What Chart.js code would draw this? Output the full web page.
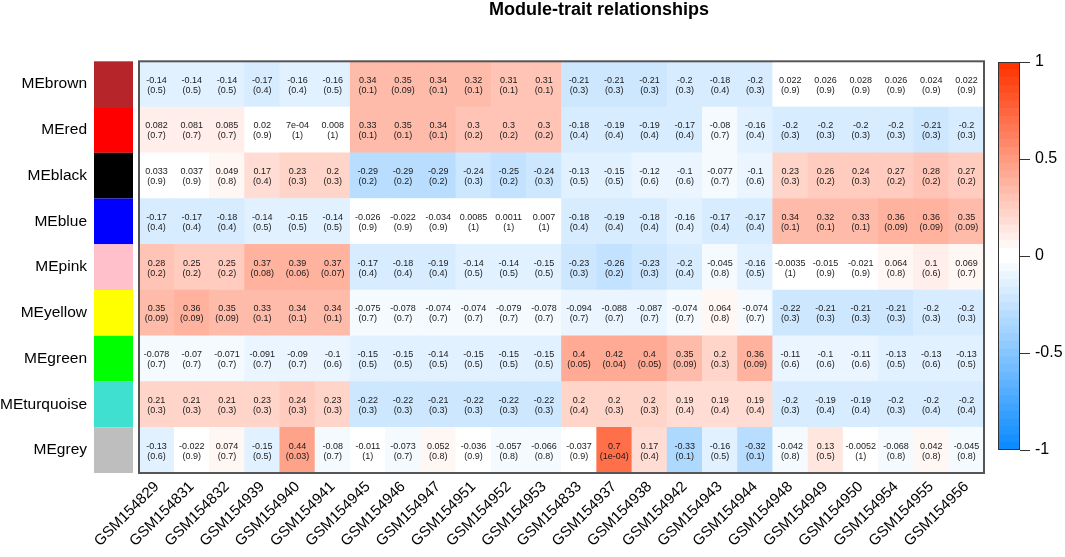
<!DOCTYPE html>
<html lang="en">
<head>
<meta charset="UTF-8">
<title>Module-trait relationships</title>
<script src="https://cdn.jsdelivr.net/npm/chart.js@4.4.0/dist/chart.umd.min.js"></script>
<style>
  body { margin: 0; background: #fff; }
  #wrap { position: relative; width: 1065px; height: 557px; }
  #main { position: absolute; left: 0; top: 0; }
  #scalebar { position: absolute; left: 985px; top: 40px; }
</style>
</head>
<body>
<div id="wrap">
  <canvas id="main" width="1065" height="557"></canvas>
  <canvas id="scalebar" width="80" height="432"></canvas>
</div>
<script>
// samples (columns) and modules (rows)
const sampleNames = ['GSM154829', 'GSM154831', 'GSM154832', 'GSM154939', 'GSM154940', 'GSM154941',
  'GSM154945', 'GSM154946', 'GSM154947', 'GSM154951', 'GSM154952', 'GSM154953',
  'GSM154833', 'GSM154937', 'GSM154938', 'GSM154942', 'GSM154943', 'GSM154944',
  'GSM154948', 'GSM154949', 'GSM154950', 'GSM154954', 'GSM154955', 'GSM154956'];
const rowNames = ['MEbrown', 'MEred', 'MEblack', 'MEblue', 'MEpink', 'MEyellow', 'MEgreen', 'MEturquoise', 'MEgrey'];
const rowColors = ['#b5252a', '#ff0000', '#000000', '#0000ff', '#ffc0cb', '#ffff00', '#00ff00', '#40e0d0', '#bebebe'];

// correlations
const corBrown = [-0.14, -0.14, -0.14, -0.17, -0.16, -0.16, 0.34, 0.35, 0.34, 0.32, 0.31, 0.31, -0.21, -0.21, -0.21, -0.2, -0.18, -0.2, 0.022, 0.026, 0.028, 0.026, 0.024, 0.022];
const corRed = [0.082, 0.081, 0.085, 0.02, 7e-4, 0.008, 0.33, 0.35, 0.34, 0.3, 0.3, 0.3, -0.18, -0.19, -0.19, -0.17, -0.08, -0.16, -0.2, -0.2, -0.2, -0.2, -0.21, -0.2];
const corBlack = [0.033, 0.037, 0.049, 0.17, 0.23, 0.2, -0.29, -0.29, -0.29, -0.24, -0.25, -0.24, -0.13, -0.15, -0.12, -0.1, -0.077, -0.1, 0.23, 0.26, 0.24, 0.27, 0.28, 0.27];
const corBlue = [-0.17, -0.17, -0.18, -0.14, -0.15, -0.14, -0.026, -0.022, -0.034, 0.0085, 0.0011, 0.007, -0.18, -0.19, -0.18, -0.16, -0.17, -0.17, 0.34, 0.32, 0.33, 0.36, 0.36, 0.35];
const corPink = [0.28, 0.25, 0.25, 0.37, 0.39, 0.37, -0.17, -0.18, -0.19, -0.14, -0.14, -0.15, -0.23, -0.26, -0.23, -0.2, -0.045, -0.16, -0.0035, -0.015, -0.021, 0.064, 0.1, 0.069];
const corYellow = [0.35, 0.36, 0.35, 0.33, 0.34, 0.34, -0.075, -0.078, -0.074, -0.074, -0.079, -0.078, -0.094, -0.088, -0.087, -0.074, 0.064, -0.074, -0.22, -0.21, -0.21, -0.21, -0.2, -0.2];
const corGreen = [-0.078, -0.07, -0.071, -0.091, -0.09, -0.1, -0.15, -0.15, -0.14, -0.15, -0.15, -0.15, 0.4, 0.42, 0.4, 0.35, 0.2, 0.36, -0.11, -0.1, -0.11, -0.13, -0.13, -0.13];
const corTurquoise = [0.21, 0.21, 0.21, 0.23, 0.24, 0.23, -0.22, -0.22, -0.21, -0.22, -0.22, -0.22, 0.2, 0.2, 0.2, 0.19, 0.19, 0.19, -0.2, -0.19, -0.19, -0.2, -0.2, -0.2];
const corGrey = [-0.13, -0.022, 0.074, -0.15, 0.44, -0.08, -0.011, -0.073, 0.052, -0.036, -0.057, -0.066, -0.037, 0.7, 0.17, -0.33, -0.16, -0.32, -0.042, 0.13, -0.0052, -0.068, 0.042, -0.045];

// p-values
const pBrown = [0.5, 0.5, 0.5, 0.4, 0.4, 0.5, 0.1, 0.09, 0.1, 0.1, 0.1, 0.1, 0.3, 0.3, 0.3, 0.3, 0.4, 0.3, 0.9, 0.9, 0.9, 0.9, 0.9, 0.9];
const pRed = [0.7, 0.7, 0.7, 0.9, 1, 1, 0.1, 0.1, 0.1, 0.2, 0.2, 0.2, 0.4, 0.4, 0.4, 0.4, 0.7, 0.4, 0.3, 0.3, 0.3, 0.3, 0.3, 0.3];
const pBlack = [0.9, 0.9, 0.8, 0.4, 0.3, 0.3, 0.2, 0.2, 0.2, 0.3, 0.2, 0.3, 0.5, 0.5, 0.6, 0.6, 0.7, 0.6, 0.3, 0.2, 0.3, 0.2, 0.2, 0.2];
const pBlue = [0.4, 0.4, 0.4, 0.5, 0.5, 0.5, 0.9, 0.9, 0.9, 1, 1, 1, 0.4, 0.4, 0.4, 0.4, 0.4, 0.4, 0.1, 0.1, 0.1, 0.09, 0.09, 0.09];
const pPink = [0.2, 0.2, 0.2, 0.08, 0.06, 0.07, 0.4, 0.4, 0.4, 0.5, 0.5, 0.5, 0.3, 0.2, 0.3, 0.4, 0.8, 0.5, 1, 0.9, 0.9, 0.8, 0.6, 0.7];
const pYellow = [0.09, 0.09, 0.09, 0.1, 0.1, 0.1, 0.7, 0.7, 0.7, 0.7, 0.7, 0.7, 0.7, 0.7, 0.7, 0.7, 0.8, 0.7, 0.3, 0.3, 0.3, 0.3, 0.3, 0.3];
const pGreen = [0.7, 0.7, 0.7, 0.7, 0.7, 0.6, 0.5, 0.5, 0.5, 0.5, 0.5, 0.5, 0.05, 0.04, 0.05, 0.09, 0.3, 0.09, 0.6, 0.6, 0.6, 0.5, 0.6, 0.5];
const pTurquoise = [0.3, 0.3, 0.3, 0.3, 0.3, 0.3, 0.3, 0.3, 0.3, 0.3, 0.3, 0.3, 0.4, 0.3, 0.3, 0.4, 0.4, 0.4, 0.3, 0.4, 0.4, 0.3, 0.4, 0.4];
const pGrey = [0.6, 0.9, 0.7, 0.5, 0.03, 0.7, 1, 0.7, 0.8, 0.9, 0.8, 0.8, 0.9, 1e-4, 0.4, 0.1, 0.5, 0.1, 0.8, 0.5, 1, 0.8, 0.8, 0.8];

const corRows = [corBrown, corRed, corBlack, corBlue, corPink, corYellow, corGreen, corTurquoise, corGrey];
const pRows = [pBrown, pRed, pBlack, pBlue, pPink, pYellow, pGreen, pTurquoise, pGrey];

const FONT = '"Liberation Sans", Arial, Helvetica, sans-serif';
Chart.defaults.font.family = FONT;
Chart.defaults.color = '#000';

// blue-white-red palette, 50 steps over [-1, 1]
const NCOL = 50;
function binColor(i) {
  let t, end;
  if (i < NCOL / 2) { t = (NCOL / 2 - 1 - i) / (NCOL / 2 - 1); end = [13, 140, 255]; }
  else { t = (i - NCOL / 2) / (NCOL / 2 - 1); end = [255, 51, 0]; }
  const c = end.map(e => Math.round(255 + (e - 255) * t));
  return 'rgb(' + c.join(',') + ')';
}
function cellColor(v) {
  let i = Math.floor((v + 1) / 2 * NCOL);
  if (i < 0) i = 0;
  if (i > NCOL - 1) i = NCOL - 1;
  return binColor(i);
}

// R-like print of a 2-digit number (picks the shorter of fixed / sci)
function fmt(v) {
  if (v === 0) return '0';
  const fixed = String(v);
  const e = Math.floor(Math.log10(Math.abs(v)));
  const m = +(v / Math.pow(10, e)).toPrecision(2);
  const sci = String(m) + 'e' + (e < 0 ? '-' : '+') + String(Math.abs(e)).padStart(2, '0');
  return sci.length < fixed.length ? sci : fixed;
}

// stacked from the bottom: grey first, brown last
const datasets = [];
for (let r = rowNames.length - 1; r >= 0; r--) {
  datasets.push({
    label: rowNames[r],
    data: sampleNames.map(() => 1),
    backgroundColor: corRows[r].map(cellColor),
    cor: corRows[r],
    pv: pRows[r],
    row: r
  });
}

const heatDecor = {
  id: 'heatDecor',
  afterDatasetsDraw(chart) {
    const ctx = chart.ctx;
    ctx.save();
    ctx.font = '9px ' + FONT;
    ctx.fillStyle = '#1a1a1a';
    ctx.textAlign = 'center';
    ctx.textBaseline = 'middle';
    chart.data.datasets.forEach((ds, di) => {
      chart.getDatasetMeta(di).data.forEach((bar, i) => {
        const cy = (bar.y + bar.base) / 2;
        ctx.fillText(fmt(ds.cor[i]), bar.x, cy - 4);
        ctx.fillText('(' + fmt(ds.pv[i]) + ')', bar.x, cy + 6);
      });
    });
    ctx.restore();
  },
  afterDraw(chart) {
    const ctx = chart.ctx;
    const a = chart.chartArea;
    const ys = chart.scales.y;
    ctx.save();
    // module colour swatches
    rowNames.forEach((n, r) => {
      const top = ys.getPixelForValue(rowNames.length - r);
      const bot = ys.getPixelForValue(rowNames.length - r - 1);
      ctx.fillStyle = rowColors[r];
      ctx.fillRect(94, top, 39, bot - top);
    });
    // frame
    ctx.strokeStyle = '#555';
    ctx.lineWidth = 2;
    ctx.strokeRect(a.left, a.top, a.right - a.left, a.bottom - a.top);
    // title
    ctx.fillStyle = '#000';
    ctx.font = 'bold 18px ' + FONT;
    ctx.textAlign = 'center';
    ctx.textBaseline = 'middle';
    ctx.fillText('Module-trait relationships', 599, 10);
    ctx.restore();
  }
};

const mainChart = new Chart(document.getElementById('main'), {
  type: 'bar',
  data: { labels: sampleNames, datasets: datasets },
  options: {
    responsive: false,
    animation: false,
    layout: { padding: { top: 36, right: 81, left: 0, bottom: 0 } },
    plugins: { legend: { display: false }, tooltip: { enabled: false }, title: { display: false } },
    datasets: { bar: { barPercentage: 1, categoryPercentage: 1, borderWidth: 0 } },
    scales: {
      x: {
        stacked: true,
        grid: { display: false, drawTicks: false },
        border: { display: false },
        ticks: { autoSkip: false, minRotation: 45, maxRotation: 45, padding: 5, color: '#000', font: { size: 15 } },
        afterFit(s) { s.height = 84; }
      },
      y: { stacked: true, min: 0, max: 9, display: false },
      yLab: {
        type: 'category',
        labels: rowNames,
        position: 'left',
        offset: true,
        grid: { display: false, drawTicks: false },
        border: { display: false },
        ticks: { padding: 52, color: '#000', font: { size: 15.5 } },
        afterFit(s) { s.width = 139; }
      }
    }
  },
  plugins: [heatDecor]
});

// colour key
const keyBins = [];
for (let i = NCOL - 1; i >= 0; i--) keyBins.push(i);

const keyFrame = {
  id: 'keyFrame',
  afterDraw(chart) {
    const a = chart.chartArea;
    const ctx = chart.ctx;
    ctx.save();
    ctx.strokeStyle = '#333';
    ctx.lineWidth = 1;
    ctx.strokeRect(a.left + 0.5, a.top + 0.5, a.right - a.left - 1, a.bottom - a.top - 1);
    ctx.restore();
  }
};

const keyChart = new Chart(document.getElementById('scalebar'), {
  type: 'bar',
  data: {
    labels: keyBins.map(String),
    datasets: [{ data: keyBins.map(() => 1), backgroundColor: keyBins.map(binColor) }]
  },
  options: {
    indexAxis: 'y',
    responsive: false,
    animation: false,
    layout: { padding: { left: 13, top: 22, bottom: 22, right: 0 } },
    plugins: { legend: { display: false }, tooltip: { enabled: false } },
    datasets: { bar: { barPercentage: 1, categoryPercentage: 1, borderWidth: 0 } },
    scales: {
      x: { display: false, min: 0, max: 1 },
      y: { display: false },
      cb: {
        type: 'linear',
        axis: 'y',
        position: 'right',
        offset: false,
        min: -1,
        max: 1,
        grid: { offset: false, drawOnChartArea: false, tickLength: 10, color: '#333' },
        border: { display: false },
        ticks: { stepSize: 0.5, padding: 5, color: '#000', font: { size: 16 }, callback: v => String(v) },
        afterFit(s) { s.width = 45; }
      }
    }
  },
  plugins: [keyFrame]
});
</script>
</body>
</html>
